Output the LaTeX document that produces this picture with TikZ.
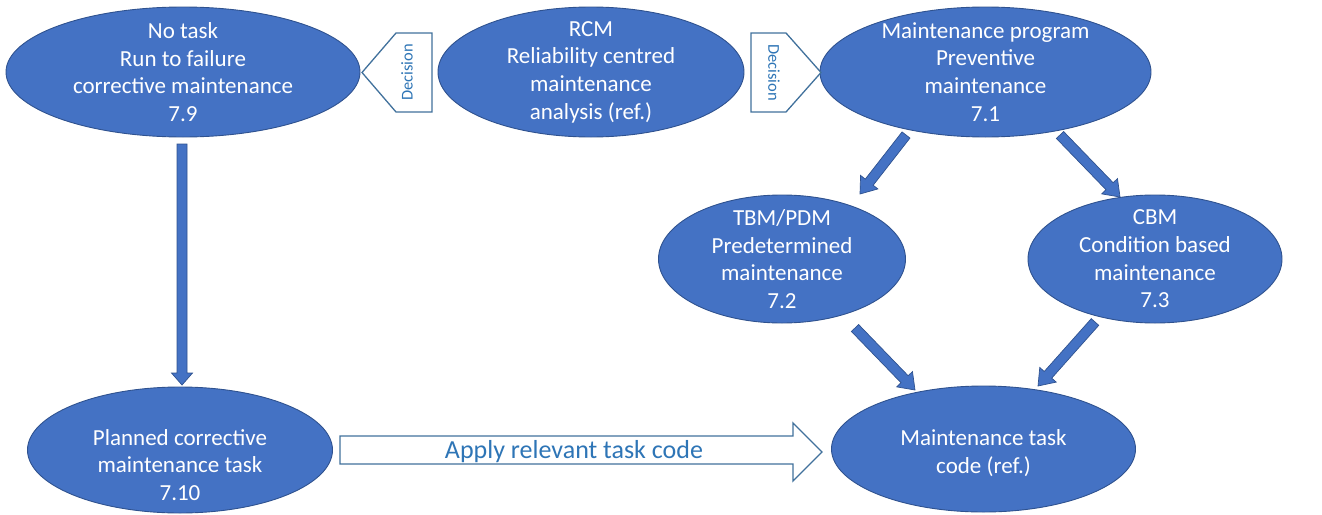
\documentclass[tikz,border=0pt]{standalone}
\usepackage{fontspec}
\setmainfont{Carlito}
\usetikzlibrary{shapes.geometric,calc}
\definecolor{ellfill}{HTML}{4472C4}
\definecolor{elline}{HTML}{2F528F}
\definecolor{outl}{HTML}{41719C}
\definecolor{txtblue}{HTML}{2E75B6}
\tikzset{
  ell/.style={ellipse, draw=elline, fill=ellfill, line width=0.9pt, inner sep=0pt},
  etxt/.style={text=white, align=center, inner sep=0pt, font=\fontsize{23}{27.7}\selectfont},
  blk/.style={fill=ellfill, draw=elline, line width=0.7pt, line join=miter},
  hollow/.style={fill=white, draw=outl, line width=1.3pt, line join=miter},
  dectxt/.style={text=txtblue, inner sep=0pt, font=\fontsize{16.5}{19}\selectfont},
}
\newcommand\blkarrow[5]{% from, to, shaft half width, head half width, head length
  \coordinate (ba-h) at ($(#2)!#5!(#1)$);
  \draw[blk] ($(#1)!#3!90:(#2)$) -- ($(ba-h)!#3!90:(#2)$) -- ($(ba-h)!#4!90:(#2)$)
    -- (#2) -- ($(ba-h)!#4!-90:(#2)$) -- ($(ba-h)!#3!-90:(#2)$) -- ($(#1)!#3!-90:(#2)$) -- cycle;
}
\begin{document}
\begin{tikzpicture}[x=1pt,y=-1pt]
\useasboundingbox (0,0) rectangle (1322,514);

% ellipses
\node[ell, minimum width=354pt, minimum height=130pt,
  label={[etxt]center:{No task\\Run to failure\\corrective maintenance\\7.9}}] (nt) at (183,72) {};
\node[ell, minimum width=306pt, minimum height=130pt,
  label={[etxt]center:{RCM\\Reliability centred\\maintenance\\analysis (ref.)}}] (rcm) at (591,72) {};
\node[ell, minimum width=331pt, minimum height=130pt,
  label={[etxt]center:{Maintenance program\\Preventive\\maintenance\\7.1}}] (mp) at (985.5,72) {};
\node[ell, minimum width=247pt, minimum height=128pt,
  label={[etxt]center:{TBM/PDM\\Predetermined\\maintenance\\7.2}}] (tbm) at (782,259) {};
\node[ell, minimum width=254pt, minimum height=128pt,
  label={[etxt]center:{CBM\\Condition based\\maintenance\\7.3}}] (cbm) at (1155,259) {};
\node[ell, minimum width=305pt, minimum height=126pt,
  label={[etxt, yshift=-15pt]center:{Planned corrective\\maintenance task\\7.10}}] (pc) at (180,450) {};
\node[ell, minimum width=304pt, minimum height=126pt,
  label={[etxt, yshift=-4pt]center:{Maintenance task\\code (ref.)}}] (mtc) at (983.5,449) {};

% decision arrows
\draw[hollow] (432,33) -- (396,33) -- (362,72.5) -- (396,112) -- (432,112) -- cycle;
\node[dectxt, rotate=90] (decl) at (407,72.5) {Decision};
\draw[hollow] (751,33) -- (786,33) -- (821,72.5) -- (786,112) -- (751,112) -- cycle;
\node[dectxt, rotate=-90] (decr) at (774,72.5) {Decision};

% apply arrow
\draw[hollow] (340,436) -- (793,436) -- (793,423) -- (822,452) -- (793,481) -- (793,464) -- (340,464) -- cycle;
\node[text=txtblue, inner sep=0pt, font=\fontsize{26}{30}\selectfont] (apply) at (574,452) {Apply relevant task code};

% block arrows
\coordinate (v1) at (182,144);
\coordinate (v2) at (182,385);
\blkarrow{v1}{v2}{5pt}{10.5pt}{12pt}
\coordinate (a1) at (906,135);
\coordinate (a2) at (860,194);
\blkarrow{a1}{a2}{5pt}{11pt}{15pt}
\coordinate (b1) at (1060,135);
\coordinate (b2) at (1120,197);
\blkarrow{b1}{b2}{5pt}{11pt}{15pt}
\coordinate (c1) at (855,328);
\coordinate (c2) at (915,390);
\blkarrow{c1}{c2}{5pt}{11pt}{15pt}
\coordinate (d1) at (1095,322);
\coordinate (d2) at (1038,386);
\blkarrow{d1}{d2}{5pt}{11pt}{15pt}
\end{tikzpicture}
\end{document}
